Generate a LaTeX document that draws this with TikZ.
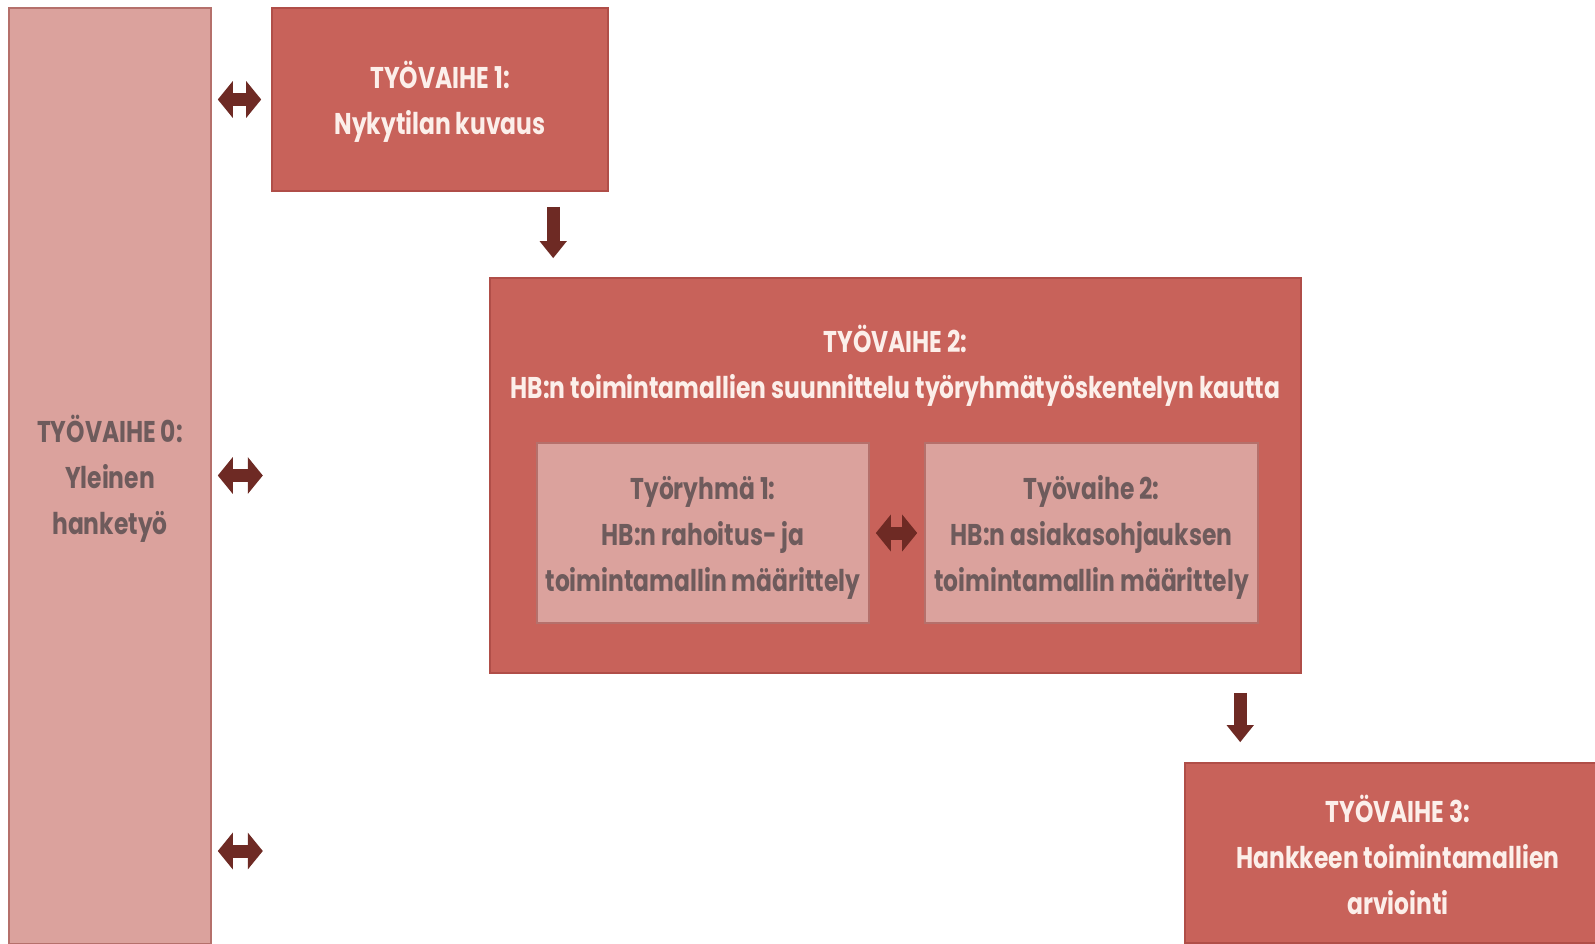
\documentclass[tikz,border=0pt]{standalone}
\usepackage{fontspec}
\setmainfont{Poppins}
\usetikzlibrary{arrows.meta,calc}
\definecolor{redbox}{HTML}{C8625A}
\definecolor{redborder}{HTML}{B04E48}
\definecolor{pinkbox}{HTML}{DBA29D}
\definecolor{pinkborder}{HTML}{B5706B}
\definecolor{lighttext}{HTML}{FCEFEA}
\definecolor{darktext}{HTML}{6E5B5C}
\definecolor{arrowcol}{HTML}{6E2A24}
\newcommand\sq[1]{\scalebox{0.78}[1]{#1}}
\newcommand\lowr{\rule{0pt}{16pt}}
\begin{document}
\begin{tikzpicture}[x=0.5pt,y=-0.5pt,
  redstage/.style={draw=redborder,line width=0.8pt,fill=redbox,text=lighttext,font=\fontsize{15}{23}\selectfont\bfseries,align=center,inner sep=0pt},
  pinkstage/.style={draw=pinkborder,line width=0.8pt,fill=pinkbox,text=darktext,font=\fontsize{15}{23}\selectfont\bfseries,align=center,inner sep=0pt},
  dblarrow/.style={draw=arrowcol,line width=6.5pt,{Triangle[width=18pt,length=7.5pt]}-{Triangle[width=18pt,length=7.5pt]}},
  downarrow/.style={draw=arrowcol,line width=6.5pt,-{Triangle[width=13pt,length=8.5pt]}}]
\useasboundingbox (0,0) rectangle (1595,943);
\fill[white] (0,0) rectangle (1595,943);
% stage 0
\node (box0) [pinkstage,minimum width=101pt,minimum height=468pt] at (110,476)
  {\lowr\sq{TYÖVAIHE 0:}\\\sq{Yleinen}\\\sq{hanketyö}};
% stage 1
\node (box1) [redstage,minimum width=168pt,minimum height=91.5pt] at (440,99.5)
  {\lowr\sq{TYÖVAIHE 1:}\\\sq{Nykytilan kuvaus}};
% stage 2
\node (box2) [redstage,minimum width=405.5pt,minimum height=197.5pt] at (895.5,475.5) {};
\node (t2) [text=lighttext,font=\fontsize{15}{23}\selectfont\bfseries,align=center,inner sep=0pt,anchor=center] at ($(box2.north)+(0,89)$)
  {\sq{TYÖVAIHE 2:}\\\sq{HB:n toimintamallien suunnittelu työryhmätyöskentelyn kautta}};
\node (ga) [pinkstage,minimum width=166pt,minimum height=90pt] at (703,533)
  {\lowr\sq{Työryhmä 1:}\\\sq{HB:n rahoitus- ja}\\\sq{toimintamallin määrittely}};
\node (gb) [pinkstage,minimum width=166.5pt,minimum height=90pt] at (1091.5,533)
  {\lowr\sq{Työvaihe 2:}\\\sq{HB:n asiakasohjauksen}\\\sq{toimintamallin määrittely}};
% stage 3
\node (box3) [redstage,minimum width=213pt,minimum height=90pt] at (1398,853)
  {\lowr\sq{TYÖVAIHE 3:}\\\sq{Hankkeen toimintamallien}\\\sq{arviointi}};
% coordinates for free arrow ends
\coordinate (e2) at ($(box0.east |- box2.center)+(51,0)$);
\coordinate (e3) at ($(box0.east |- box3.center)+(51,-2)$);
% arrows
\draw[dblarrow] ($(box0.east |- box1.west)+(6,0)$) -- ($(box1.west)+(-10,0)$);
\draw[dblarrow] ($(box0.east |- e2)+(6,0)$) -- (e2);
\draw[dblarrow] ($(box0.east |- e3)+(6,0)$) -- (e3);
\draw[dblarrow] ($(ga.east)+(6,0)$) -- ($(gb.west)+(-7,0)$);
\draw[downarrow] ($(box1.south -| box2.west)+(64,15)$) -- ($(box2.north west)+(64,-19)$);
\draw[downarrow] ($(box2.south -| box3.west)+(56,19)$) -- ($(box3.north west)+(56,-20)$);
\end{tikzpicture}
\end{document}
